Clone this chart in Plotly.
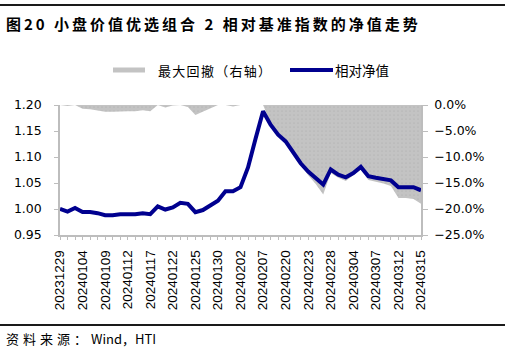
import plotly.graph_objects as go

dates = ["20231229", "20240102", "20240103", "20240104", "20240105", "20240108", "20240109",
         "20240110", "20240111", "20240112", "20240115", "20240116", "20240117", "20240118",
         "20240119", "20240122", "20240123", "20240124", "20240125", "20240126", "20240129",
         "20240130", "20240131", "20240201", "20240202", "20240205", "20240206", "20240207",
         "20240208", "20240219", "20240220", "20240221", "20240222", "20240223", "20240226",
         "20240227", "20240228", "20240229", "20240301", "20240304", "20240305", "20240306",
         "20240307", "20240308", "20240311", "20240312", "20240313", "20240314", "20240315"]

net_value = [1.000, 0.995, 1.002, 0.994, 0.994, 0.992, 0.988, 0.988, 0.990, 0.990,
             0.990, 0.992, 0.990, 1.005, 0.999, 1.003, 1.012, 1.010, 0.994, 0.998,
             1.008, 1.016, 1.034, 1.034, 1.042, 1.080, 1.135, 1.188, 1.162, 1.143,
             1.130, 1.108, 1.088, 1.072, 1.060, 1.047, 1.076, 1.066, 1.061, 1.069,
             1.081, 1.063, 1.060, 1.058, 1.055, 1.042, 1.042, 1.042, 1.036]

max_drawdown_pct = [0.0, -0.2, 0.0, -0.7, -0.8, -1.0, -1.3, -1.3, -1.2, -1.2,
                    -1.2, -1.0, -1.2, 0.0, -0.5, -0.1, 0.0, -0.4, -1.9, -1.3,
                    -0.6, 0.0, 0.0, -0.3, 0.0, 0.0, 0.0, 0.0, -3.4, -5.8,
                    -7.0, -9.3, -11.5, -13.5, -15.2, -17.2, -13.1, -14.0, -14.6, -13.5,
                    -12.4, -14.4, -14.7, -15.1, -15.6, -17.9, -17.9, -18.1, -19.0]

left_ticks = [0.95, 1.00, 1.05, 1.10, 1.15, 1.20]
right_ticks = [-0.25, -0.20, -0.15, -0.10, -0.05, 0.0]
label_every = 3

title_text = "图20 小盘价值优选组合 2 相对基准指数的净值走势"
source_cjk = "资料来源："
source_rest = "Wind，HTI"
legend_dd = "最大回撤（右轴）"
legend_nv = "相对净值"

drawdown = [v / 100 for v in max_drawdown_pct]
ticktext = [d if i % label_every == 0 else "" for i, d in enumerate(dates)]

W, H = 510, 351
L, R, T, B = 60, 89, 105, 116
PW, PH = W - L - R, H - T - B


def px_x(px):
    return (px - L) / PW


def px_y(py):
    return (H - B - py) / PH


LINE_BLUE = "#00008f"
AREA_GRAY = "#c3c3c3"
AXIS_GRAY = "#bdbdbd"

fig = go.Figure()
fig.add_trace(go.Scatter(
    x=dates, y=drawdown, yaxis="y", mode="lines",
    line=dict(width=0, color=AREA_GRAY), fill="tozeroy", fillcolor=AREA_GRAY,
    fillpattern=dict(shape=".", bgcolor=AREA_GRAY, fgcolor="#a9a9a9", size=4, solidity=0.15),
    name=legend_dd, showlegend=False, hoverinfo="skip"))
fig.add_trace(go.Scatter(
    x=dates, y=net_value, yaxis="y2", mode="lines",
    line=dict(width=4, color=LINE_BLUE),
    name=legend_nv, showlegend=False))

tick_font = dict(family="DejaVu Sans", size=12.5, color="#000000")

fig.update_layout(
    width=W, height=H,
    margin=dict(l=L, r=R, t=T, b=B, pad=0),
    paper_bgcolor="white", plot_bgcolor="white",
    xaxis=dict(
        type="category", range=[0, len(dates) - 1],
        tickmode="array", tickvals=dates, ticktext=ticktext,
        tickangle=-90, ticks="outside", ticklen=3, tickcolor=AXIS_GRAY, tickwidth=1,
        showline=True, linecolor=AXIS_GRAY, linewidth=1.5,
        showgrid=False, zeroline=False,
        tickfont=dict(family="Liberation Sans", size=13.5, color="#000000"),
        ticklabelstandoff=5,
    ),
    yaxis=dict(
        side="right", range=[-0.25, 0.0], tickmode="array", tickvals=right_ticks,
        tickformat=".1%", ticks="outside", ticklen=5, tickcolor=AXIS_GRAY,
        showline=True, linecolor=AXIS_GRAY, linewidth=1.5,
        showgrid=False, zeroline=False, tickfont=tick_font,
        ticklabelstandoff=4,
    ),
    yaxis2=dict(
        side="left", overlaying="y", range=[0.95, 1.20], tickmode="array",
        tickvals=left_ticks, tickformat=".2f", ticks="outside", ticklen=4,
        tickcolor=AXIS_GRAY, showline=True, linecolor=AXIS_GRAY, linewidth=1.5,
        showgrid=False, zeroline=False, tickfont=tick_font,
        ticklabelstandoff=10,
    ),
    showlegend=False,
)

shapes = [
    dict(type="line", xref="paper", yref="paper", x0=px_x(0), x1=px_x(505),
         y0=px_y(5), y1=px_y(5), line=dict(color="#1a1a1a", width=2)),
    dict(type="line", xref="paper", yref="paper", x0=px_x(0), x1=px_x(505),
         y0=px_y(325), y1=px_y(325), line=dict(color="#1a1a1a", width=2)),
    dict(type="rect", xref="paper", yref="paper", x0=px_x(113), x1=px_x(145),
         y0=px_y(72.5), y1=px_y(67.5), fillcolor=AREA_GRAY, line=dict(width=0)),
    dict(type="line", xref="paper", yref="paper", x0=px_x(290), x1=px_x(333),
         y0=px_y(70), y1=px_y(70), line=dict(color=LINE_BLUE, width=4)),
]
fig.update_layout(shapes=shapes)

cjk = "Noto Sans CJK SC"
annotations = [
    dict(xref="paper", yref="paper", x=px_x(4), y=px_y(23), xanchor="left", yanchor="middle",
         showarrow=False,
         text='<span style="letter-spacing:3px"><b>' + title_text + '</b></span>',
         font=dict(family=cjk, size=15, color="#000000")),
    dict(xref="paper", yref="paper", x=px_x(4), y=px_y(338), xanchor="left", yanchor="middle",
         showarrow=False,
         text='<span style="letter-spacing:4px">' + source_cjk + '</span>' + source_rest,
         font=dict(family=cjk, size=13, color="#000000")),
    dict(xref="paper", yref="paper", x=px_x(156), y=px_y(70), xanchor="left", yanchor="middle",
         showarrow=False,
         text='<span style="letter-spacing:1.3px">' + legend_dd + '</span>',
         font=dict(family=cjk, size=13, color="#000000")),
    dict(xref="paper", yref="paper", x=px_x(333), y=px_y(70), xanchor="left", yanchor="middle",
         showarrow=False, text=legend_nv, font=dict(family=cjk, size=13.5, color="#000000")),
]
fig.update_layout(annotations=annotations)

fig.write_html("out.html")
